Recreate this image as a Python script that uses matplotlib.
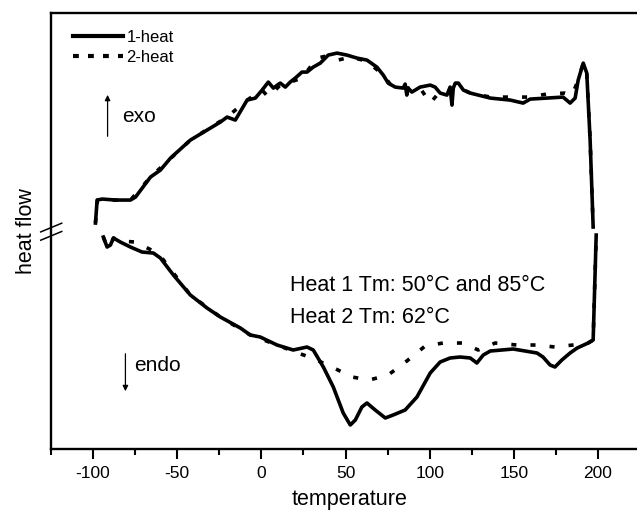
import matplotlib
matplotlib.use("Agg")
import matplotlib.pyplot as plt
from matplotlib.lines import Line2D
from matplotlib.ticker import MultipleLocator, NullLocator

plt.rcParams["font.family"] = ["Liberation Sans", "DejaVu Sans"]
plt.rcParams["axes.unicode_minus"] = False

# ---- data (temperature in C, heat flow in arbitrary units) ----
heat1_up_t = [-98.6, -97.6, -94.6, -86.7, -77.8, -74.8, -65.9, -60.0, -54.0, -42.2,
              -32.3, -24.4, -20.4, -15.5, -8.5, -3.6, 0.4, 4.1, 7.1, 9.5,
              11.2, 14.2, 17.1, 20.1, 24.1, 27.1, 30.8, 35.0, 39.7, 44.9,
              50.8, 56.8, 62.7, 68.6, 72.4, 75.3, 79.5, 84.2, 85.4, 86.4,
              87.2, 89.4, 94.3, 100.3, 103.2, 106.2, 110.2, 112.1, 113.2, 114.0,
              115.2, 117.0, 120.0, 124.1, 136.0, 147.8, 155.5, 159.7, 169.6, 179.2,
              183.4, 186.4, 188.2, 191.2, 193.3, 195.3, 197.1]
heat1_up_hf = [2.26, 2.49, 2.50, 2.49, 2.49, 2.52, 2.72, 2.79, 2.91, 3.09,
               3.19, 3.27, 3.32, 3.29, 3.49, 3.51, 3.59, 3.67, 3.61, 3.64,
               3.66, 3.62, 3.67, 3.71, 3.77, 3.77, 3.82, 3.86, 3.94, 3.96,
               3.94, 3.91, 3.89, 3.82, 3.74, 3.66, 3.62, 3.61, 3.65, 3.54,
               3.61, 3.57, 3.62, 3.64, 3.62, 3.56, 3.54, 3.62, 3.44, 3.61,
               3.66, 3.66, 3.59, 3.56, 3.51, 3.49, 3.46, 3.50, 3.51, 3.52,
               3.46, 3.51, 3.69, 3.86, 3.76, 3.09, 2.22]

heat2_up_t = [-98.6, -97.4, -77.8, -65.9, -42.2, -20.4, -8.5, 0.4, 4.1, 11.2,
              17.1, 24.1, 33.0, 38.5, 45.5, 52.8, 62.7, 72.4, 76.5, 84.2,
              94.3, 100.3, 104.3, 109.8, 115.2, 124.1, 136.0, 146.6, 158.5, 169.6,
              180.4, 184.6, 188.2, 191.2, 193.3, 195.3, 197.1]
heat2_up_hf = [2.26, 2.49, 2.49, 2.72, 3.09, 3.32, 3.49, 3.59, 3.52, 3.64,
               3.67, 3.71, 3.91, 3.93, 3.89, 3.92, 3.88, 3.74, 3.65, 3.61,
               3.61, 3.46, 3.54, 3.56, 3.63, 3.56, 3.52, 3.52, 3.52, 3.55,
               3.56, 3.54, 3.69, 3.86, 3.76, 3.09, 2.22]

heat1_dn_t = [-93.9, -91.7, -89.7, -87.9, -83.8, -77.8, -70.9, -64.2, -60.0, -52.3,
              -42.2, -32.3, -24.4, -12.5, -6.6, -0.7, 9.3, 18.9, 27.1, 30.8,
              36.8, 42.7, 48.6, 52.8, 55.8, 59.7, 62.7, 67.6, 73.6, 78.3,
              85.4, 92.4, 100.3, 106.2, 112.1, 118.0, 124.1, 128.0, 131.8, 136.0,
              149.6, 163.7, 167.3, 171.5, 174.4, 178.5, 183.4, 187.6, 194.1, 197.1,
              198.9]
heat1_dn_hf = [2.12, 2.02, 2.04, 2.11, 2.07, 2.02, 1.97, 1.96, 1.91, 1.74,
               1.54, 1.41, 1.32, 1.21, 1.14, 1.12, 1.04, 0.99, 1.02, 0.99,
               0.82, 0.62, 0.36, 0.24, 0.29, 0.42, 0.46, 0.39, 0.31, 0.34,
               0.39, 0.52, 0.76, 0.87, 0.91, 0.92, 0.91, 0.86, 0.94, 0.98,
               1.00, 0.96, 0.92, 0.84, 0.82, 0.89, 0.96, 1.01, 1.06, 1.09,
               2.14]

heat2_dn_t = [-93.9, -91.7, -89.7, -87.9, -83.8, -74.8, -64.2, -60.0, -52.3, -42.2,
              -24.4, -6.6, 9.3, 20.1, 30.0, 41.9, 53.8, 64.1, 75.3, 86.4,
              97.3, 108.0, 119.9, 128.8, 138.9, 151.8, 163.2, 174.4, 185.1, 194.1,
              197.1, 198.9]
heat2_dn_hf = [2.12, 2.02, 2.04, 2.11, 2.08, 2.07, 1.98, 1.93, 1.76, 1.54,
               1.32, 1.14, 1.04, 0.97, 0.91, 0.82, 0.72, 0.69, 0.74, 0.88,
               1.03, 1.06, 1.06, 0.99, 1.06, 1.04, 1.04, 1.02, 1.04, 1.06,
               1.09, 2.14]

fig = plt.figure(figsize=(6.37, 5.14), dpi=100)
ax = fig.add_axes([0.0801, 0.1265, 0.9388, 0.848])

lw = 2.6
dash = (0, (1.4, 3.9))
ax.plot(heat1_up_t, heat1_up_hf, color="black", lw=lw, solid_joinstyle="round")
ax.plot(heat1_dn_t, heat1_dn_hf, color="black", lw=lw, solid_joinstyle="round")
ax.plot(heat2_up_t, heat2_up_hf, color="black", lw=lw, ls=dash, dash_capstyle="butt")
ax.plot(heat2_dn_t, heat2_dn_hf, color="black", lw=lw, ls=dash, dash_capstyle="butt")

ax.set_xlim(-125, 230.3)
ax.set_ylim(0, 4.36)

ax.xaxis.set_major_locator(MultipleLocator(50))
ax.xaxis.set_minor_locator(MultipleLocator(25))
ax.yaxis.set_major_locator(NullLocator())
ax.tick_params(axis="x", which="major", direction="out", length=7, width=1.5,
               labelsize=12.5, pad=5)
ax.tick_params(axis="x", which="minor", direction="out", length=4, width=1.5)
ax.spines["right"].set_visible(False)
for s in ("left", "bottom", "top"):
    ax.spines[s].set_linewidth(1.7)

ax.set_xlabel("temperature", fontsize=15.5, labelpad=6)
ax.set_ylabel("heat flow", fontsize=15.5, labelpad=10)

# axis break on the left spine
for y0 in (0.479, 0.498):
    ax.plot([-0.0172, 0.0179], [y0, y0 + 0.02], transform=ax.transAxes,
            color="black", lw=1.1, clip_on=False)

# exo / endo arrows
ax.annotate("", xy=(-91.4, 3.57), xytext=(-91.4, 3.10),
            arrowprops=dict(arrowstyle="-|>", lw=0.9, mutation_scale=8, color="black"))
ax.text(-82.6, 3.33, "exo", fontsize=15, va="center", ha="left")
ax.annotate("", xy=(-80.8, 0.55), xytext=(-80.8, 0.98),
            arrowprops=dict(arrowstyle="-|>", lw=0.9, mutation_scale=8, color="black"))
ax.text(-75.5, 0.84, "endo", fontsize=15, va="center", ha="left")

ax.text(17.2, 1.64, "Heat 1 Tm: 50°C and 85°C", fontsize=15.5, va="center", ha="left")
ax.text(17.2, 1.32, "Heat 2 Tm: 62°C", fontsize=15.5, va="center", ha="left")

handles = [Line2D([], [], color="black", lw=3),
           Line2D([], [], color="black", lw=3, ls=(0, (1.4, 2.2)), dash_capstyle="butt")]
ax.legend(handles, ["1-heat", "2-heat"], loc="upper left", bbox_to_anchor=(0.02, 0.985),
          frameon=False, fontsize=12, handlelength=3.0, handletextpad=0.2,
          labelspacing=0.3, borderaxespad=0.2)

fig.savefig("out.png", dpi=100)
